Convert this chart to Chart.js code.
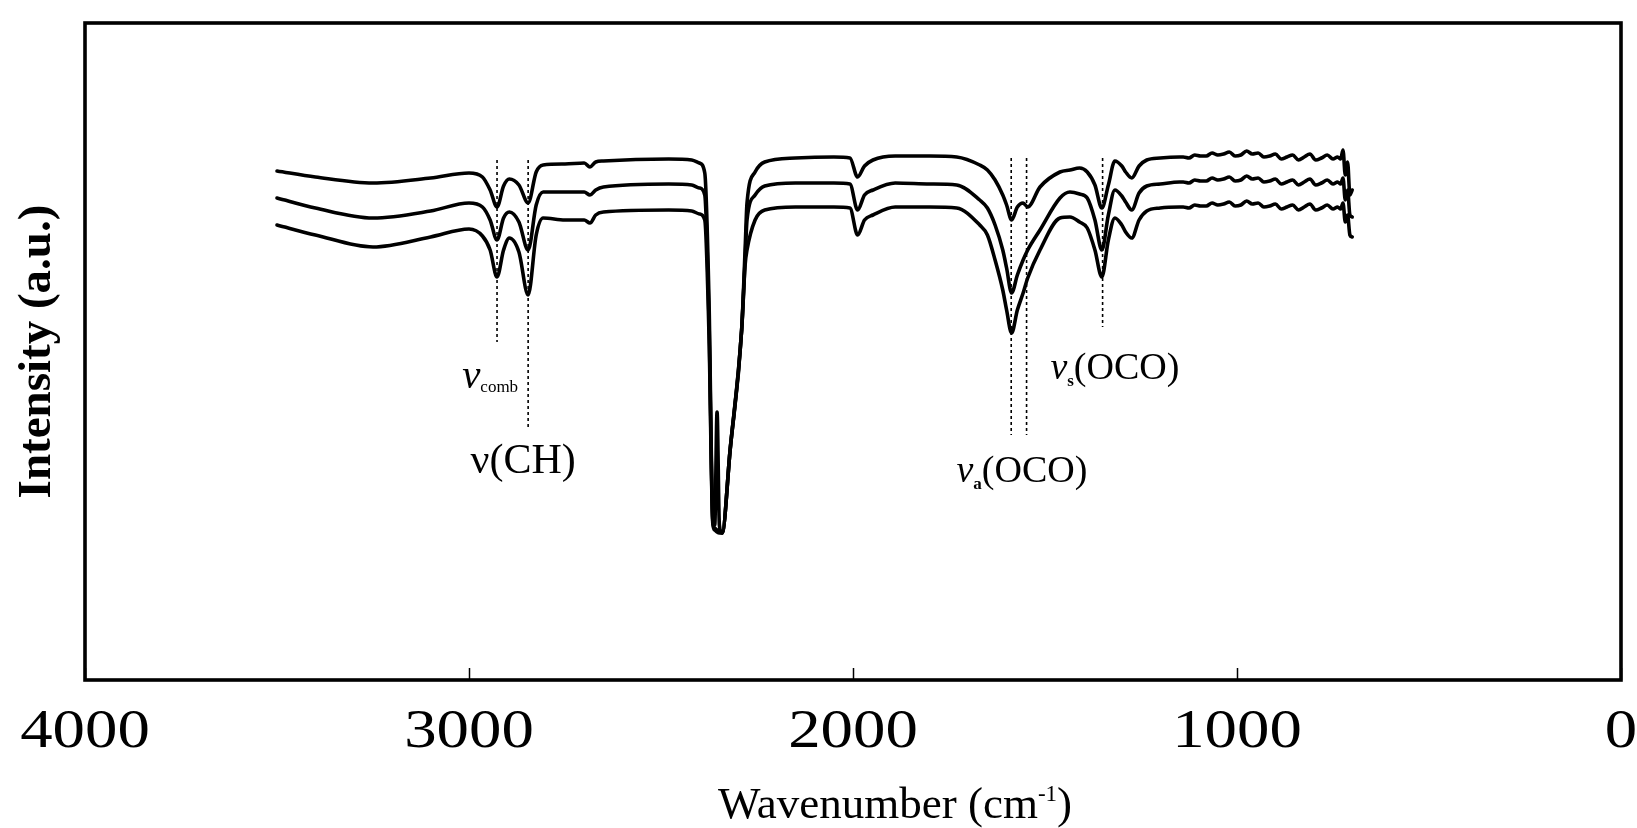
<!DOCTYPE html>
<html>
<head>
<meta charset="utf-8">
<title>FT-IR spectra</title>
<script src="https://cdn.jsdelivr.net/npm/chart.js@4.4.1/dist/chart.umd.min.js"></script>
<style>
  html, body { margin: 0; padding: 0; background: #fff; }
  #spectra { display: block; }
</style>
</head>
<body>
<canvas id="spectra" width="1637" height="828"></canvas>
<script>
// wavenumber grid (cm-1) shared by the three stacked spectra
var wavenumbers = [
  3500, 3400, 3250, 3100, 3000, 2965, 2945, 2927, 2910, 2895,
  2870, 2846, 2825, 2807, 2750, 2700, 2685, 2670, 2650, 2480,
  2420, 2400, 2386, 2375, 2365, 2360, 2354, 2348, 2341, 2320,
  2290, 2281, 2276, 2255, 2230, 2150, 2050, 2008, 1988, 1970,
  1948, 1890, 1800, 1730, 1670, 1650, 1630, 1610, 1600, 1587,
  1572, 1557, 1545, 1513, 1461, 1435, 1410, 1390, 1370, 1352,
  1335, 1318, 1300, 1290, 1274, 1255, 1235, 1200, 1150,
  1140, 1125, 1110, 1095, 1080, 1065, 1050, 1035, 1020, 1005,
  990, 975, 960, 945, 930, 915, 900, 885, 870, 855,
  840, 825, 810, 795, 780, 765, 750, 738,
  730, 724, 718, 712, 706, 700
];

// intensity (a.u.), upper trace
var spectrumTop = [
  509, 503, 497, 502, 507, 503, 490, 473, 494, 501,
  495, 477, 508, 515, 516, 517, 513, 518, 519, 521,
  520, 517, 507, 380, 160, 155, 268, 155, 147, 230,
  350, 430, 477, 508, 518, 522, 523, 522, 503, 514,
  520, 524, 524, 523, 515, 510, 500, 485, 475, 460,
  473, 477, 473, 493, 508, 510, 512, 508, 495, 472,
  495, 519, 514, 508, 502, 514, 520, 522, 523,
  523, 522, 525, 524, 524, 527, 525, 526, 528, 524,
  525, 529, 526, 527, 523, 524, 526, 521, 523, 525,
  520, 523, 526, 520, 522, 525, 521, 523,
  521, 530, 505, 518, 485, 490
];

// intensity (a.u.), middle trace
var spectrumMid = [
  482, 472, 462, 469, 477, 473, 460, 440, 462, 468,
  458, 430, 475, 488, 488, 488, 485, 490, 493, 496,
  495, 492, 485, 360, 158, 152, 150, 150, 147, 230,
  350, 420, 460, 485, 494, 497, 497, 496, 470, 485,
  490, 497, 496, 495, 480, 472, 455, 430, 412, 387,
  405, 420, 430, 450, 482, 488, 486, 482, 460, 430,
  465, 490, 484, 478, 470, 487, 494, 496, 498,
  498, 497, 500, 499, 499, 502, 500, 501, 503, 499,
  500, 504, 501, 502, 498, 499, 501, 496, 498, 500,
  495, 498, 501, 495, 497, 500, 496, 498,
  496, 502, 480, 490, 465, 463
];

// intensity (a.u.), lower trace
var spectrumBottom = [
  455, 445, 433, 443, 451, 444, 430, 403, 430, 442,
  428, 385, 445, 462, 460, 460, 457, 465, 468, 470,
  469, 466, 460, 345, 156, 150, 148, 147, 147, 230,
  350, 415, 430, 460, 470, 473, 473, 472, 445, 460,
  465, 473, 473, 472, 455, 445, 420, 390, 370, 347,
  370, 387, 402, 430, 462, 463, 458, 452, 430, 403,
  440, 462, 455, 448, 442, 460, 469, 472, 473,
  473, 472, 475, 474, 474, 477, 475, 476, 478, 474,
  475, 479, 476, 477, 473, 474, 476, 471, 473, 475,
  470, 473, 476, 470, 472, 475, 471, 473,
  471, 477, 458, 465, 445, 443
];

var tickValues = [4000, 3000, 2000, 1000, 0];

// dotted band markers: position and vertical extent
var markerWavenumbers = [2927, 2846, 1588, 1548, 1350];
var markerUpper = [520, 520, 522, 522, 522];
var markerLower = [338, 250, 245, 245, 353];

var SERIF = '"Liberation Serif", "Times New Roman", serif';

// band assignment labels, each a row of text runs [text, font, baseline shift]
var bandLabels = [
  { x: 2945, y: 292, runs: [['ν', 'italic 41px ' + SERIF, 0], ['comb', '17px ' + SERIF, 4]] },
  { x: 2859, y: 207, runs: [['ν(CH)', '42px ' + SERIF, 0]] },
  { x: 1560, y: 198, runs: [['ν', 'italic 38px ' + SERIF, 0], ['a', 'bold 17px ' + SERIF, 7], ['(OCO)', '38px ' + SERIF, 0]] },
  { x: 1318, y: 301, runs: [['ν', 'italic 38px ' + SERIF, 0], ['s', 'bold 17px ' + SERIF, 7], ['(OCO)', '38px ' + SERIF, 0]] }
];

function toPoints(values) {
  return wavenumbers.map(function (w, i) { return { x: w, y: values[i] }; });
}

var datasets = [spectrumTop, spectrumMid, spectrumBottom].map(function (values) {
  return {
    data: toPoints(values),
    borderColor: '#000',
    borderWidth: 3.6,
    pointRadius: 0,
    cubicInterpolationMode: 'monotone',
    borderJoinStyle: 'round',
    borderCapStyle: 'round'
  };
});

markerWavenumbers.forEach(function (w, i) {
  datasets.push({
    data: [{ x: w, y: markerUpper[i] }, { x: w, y: markerLower[i] }],
    borderColor: '#000',
    borderWidth: 1.6,
    borderDash: [3, 3],
    pointRadius: 0
  });
});

function drawRuns(ctx, runs, cx, baseline) {
  var total = 0;
  runs.forEach(function (r) { ctx.font = r[1]; total += ctx.measureText(r[0]).width; });
  var x = cx - total / 2;
  runs.forEach(function (r) {
    ctx.font = r[1];
    ctx.fillText(r[0], x, baseline + r[2]);
    x += ctx.measureText(r[0]).width;
  });
}

var decorations = {
  id: 'decorations',
  afterDraw: function (chart) {
    var ctx = chart.ctx;
    var area = chart.chartArea;
    var xs = chart.scales.x, ys = chart.scales.y;
    ctx.save();

    // plot frame
    ctx.strokeStyle = '#000';
    ctx.lineWidth = 3.6;
    ctx.strokeRect(area.left, area.top, area.right - area.left, area.bottom - area.top);

    ctx.fillStyle = '#000';
    ctx.textBaseline = 'alphabetic';

    // wide tick numerals under the x axis
    ctx.textAlign = 'center';
    ctx.font = '54px ' + SERIF;
    xs.ticks.forEach(function (t) {
      ctx.save();
      ctx.translate(xs.getPixelForValue(t.value), 747);
      ctx.scale(1.2, 1);
      ctx.fillText(String(t.value), 0, 0);
      ctx.restore();
    });

    // band labels
    ctx.textAlign = 'left';
    bandLabels.forEach(function (lab) {
      drawRuns(ctx, lab.runs, xs.getPixelForValue(lab.x), ys.getPixelForValue(lab.y));
    });

    // x axis title with superscript
    var cx = (area.left + area.right) / 2 + 42;
    drawRuns(ctx, [
      ['Wavenumber (cm', '45px ' + SERIF, 0],
      ['-1', '23px ' + SERIF, -17],
      [')', '45px ' + SERIF, 0]
    ], cx, 818);
    ctx.restore();
  }
};

new Chart(document.getElementById('spectra'), {
  type: 'line',
  data: { datasets: datasets },
  options: {
    responsive: false,
    animation: false,
    devicePixelRatio: 1,
    layout: { padding: { top: 23, right: 16, bottom: 0, left: 0 } },
    plugins: { legend: { display: false }, tooltip: { enabled: false } },
    scales: {
      x: {
        type: 'linear',
        reverse: true,
        min: 0,
        max: 4000,
        afterBuildTicks: function (scale) {
          scale.ticks = tickValues.map(function (v) { return { value: v }; });
        },
        afterFit: function (scale) {
          scale.height = 148;
          scale.paddingLeft = 0;
          scale.paddingRight = 0;
        },
        ticks: { display: false },
        grid: {
          display: true,
          drawOnChartArea: false,
          drawTicks: true,
          tickLength: -12,
          tickWidth: 1.5,
          tickColor: '#000'
        },
        border: { display: false }
      },
      y: {
        min: 0,
        max: 657,
        afterFit: function (scale) { scale.width = 85; },
        ticks: { display: false },
        grid: { display: false },
        border: { display: false },
        title: {
          display: true,
          text: 'Intensity (a.u.)',
          color: '#000',
          font: { family: SERIF, size: 47, weight: 'bold' },
          padding: { top: 10, bottom: 0 }
        }
      }
    }
  },
  plugins: [decorations]
});
</script>
</body>
</html>
